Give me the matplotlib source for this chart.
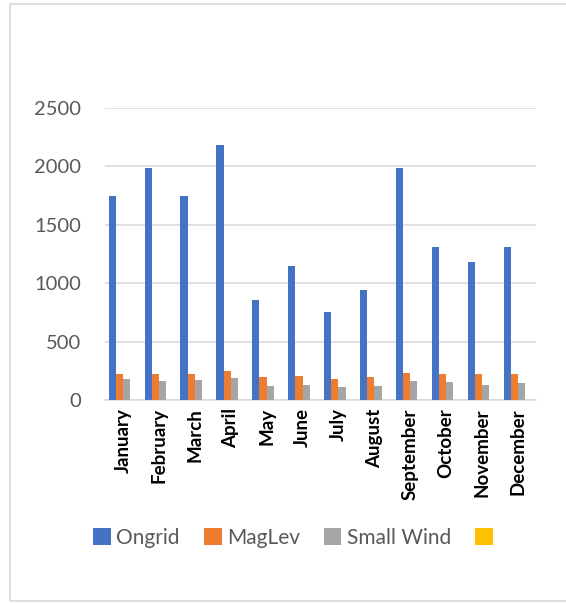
import matplotlib
matplotlib.use("Agg")
import matplotlib.pyplot as plt
import numpy as np
from matplotlib.patches import Patch, Rectangle

plt.rcParams['font.family'] = ['Lato', 'DejaVu Sans']

months = ["January", "February", "March", "April", "May", "June", "July",
          "August", "September", "October", "November", "December"]
ongrid = [1750, 1990, 1750, 2180, 860, 1150, 750, 940, 1990, 1310, 1180, 1310]
maglev = [225, 225, 225, 245, 200, 205, 180, 200, 230, 225, 220, 225]
small_wind = [178, 163, 175, 190, 120, 128, 108, 120, 163, 152, 128, 143]
series4 = [0] * 12

series_names = ["Ongrid", "MagLev", "Small Wind", " "]
series_values = [ongrid, maglev, small_wind, series4]
colors = ["#4472C4", "#ED7D31", "#A5A5A5", "#FFC000"]
yticks = [0, 500, 1000, 1500, 2000, 2500]

W, H, DPI = 566, 603, 100
fig = plt.figure(figsize=(W / DPI, H / DPI), dpi=DPI)
fig.patch.set_facecolor("white")

# light frame around the chart area
fig.add_artist(Rectangle((10 / W, 2 / H), 1.2, 1 - 6 / H, transform=fig.transFigure,
                         fill=False, edgecolor="#d9d9d9", linewidth=1.2))

left, right, top, bottom = 105, 536, 108, 400
ax = fig.add_axes([left / W, 1 - bottom / H, (right - left) / W, (bottom - top) / H])

x = np.arange(len(months))
bw = 0.2
for i, (vals, col) in enumerate(zip(series_values, colors)):
    ax.bar(x + (i - 1.5) * bw, vals, width=bw, color=col, zorder=3)

ax.set_xlim(-0.5, len(months) - 0.5)
ax.set_ylim(0, 2500)
ax.set_yticks(yticks)
ax.set_yticklabels([str(v) for v in yticks], fontsize=14.5, color="#595959")
ax.set_xticks(x)
ax.set_xticklabels(months, rotation=90, fontsize=13.5, fontweight="bold",
                   color="black", ha="center", va="top")
ax.tick_params(axis="both", length=0)
ax.tick_params(axis="y", pad=17)
ax.tick_params(axis="x", pad=6)
ax.grid(axis="y", color="#d9d9d9", linewidth=1.1, zorder=0)
for s in ["top", "right", "left"]:
    ax.spines[s].set_visible(False)
ax.spines["bottom"].set_color("#d9d9d9")
ax.spines["bottom"].set_linewidth(1.1)

handles = [Patch(facecolor=c, edgecolor="none") for c in colors]
fig.legend(handles, series_names, loc="center", bbox_to_anchor=(0.527, 1 - 538 / H),
           ncol=4, frameon=False, fontsize=15, labelcolor="#595959",
           handlelength=0.85, handleheight=0.85, handletextpad=0.25,
           columnspacing=1.15)

fig.savefig("out.png", dpi=DPI)
